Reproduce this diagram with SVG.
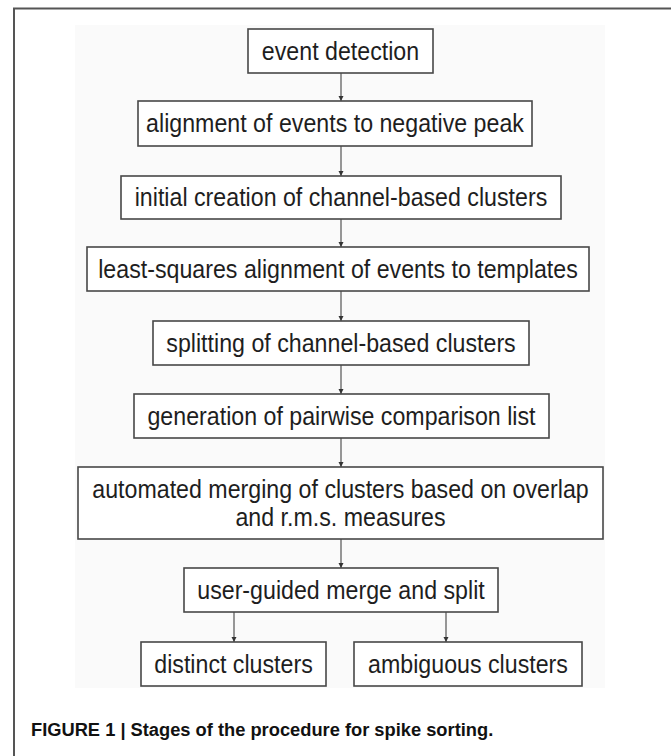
<svg xmlns="http://www.w3.org/2000/svg" width="671" height="756" viewBox="0 0 671 756">
<defs>
<marker id="ah" markerWidth="6" markerHeight="6" refX="5" refY="3" orient="auto" markerUnits="userSpaceOnUse">
<path d="M0,0.5 L5,3 L0,5.5 Z" fill="#333"/>
</marker>
</defs>
<style>
.box{fill:#fff;stroke:#484848;stroke-width:1.6}
.t{font-family:"Liberation Sans",Arial,sans-serif;font-size:23.2px;fill:#1e1e1e;text-anchor:middle}
.c{stroke:#333;stroke-width:1;fill:none;marker-end:url(#ah)}
.cap{font-family:"Liberation Sans",Arial,sans-serif;font-size:18.3px;font-weight:bold;fill:#111}
</style>
<rect x="0" y="0" width="671" height="756" fill="#fff"/>
<path d="M14,756 L14,8.5 L671,8.5" fill="none" stroke="#555" stroke-width="2"/>
<rect x="75" y="25" width="530" height="663" fill="#fafafa"/>
<g id="connectors">
<line class="c" x1="341" y1="73" x2="341" y2="101"/>
<line class="c" x1="341" y1="146" x2="341" y2="176"/>
<line class="c" x1="341" y1="219" x2="341" y2="247"/>
<line class="c" x1="341" y1="291" x2="341" y2="321"/>
<line class="c" x1="341" y1="365" x2="341" y2="394"/>
<line class="c" x1="341" y1="438" x2="341" y2="467"/>
<line class="c" x1="341" y1="539" x2="341" y2="568"/>
<line class="c" x1="234" y1="612" x2="234" y2="642"/>
<line class="c" x1="446" y1="612" x2="446" y2="642"/>
</g>
<g id="n1"><rect class="box" x="248" y="29" width="185" height="44"/><text class="t" transform="translate(340.5,59.5) scale(1,1.12)">event detection</text></g>
<g id="n2"><rect class="box" x="138" y="101" width="394" height="45"/><text class="t" transform="translate(335,132) scale(1,1.12)">alignment of events to negative peak</text></g>
<g id="n3"><rect class="box" x="121" y="176" width="440" height="43"/><text class="t" transform="translate(341,205.5) scale(1,1.12)">initial creation of channel-based clusters</text></g>
<g id="n4"><rect class="box" x="87" y="247" width="502" height="44"/><text class="t" transform="translate(338,277.5) scale(1,1.12)">least-squares alignment of events to templates</text></g>
<g id="n5"><rect class="box" x="153" y="321" width="376" height="44"/><text class="t" transform="translate(341,351.5) scale(1,1.12)">splitting of channel-based clusters</text></g>
<g id="n6"><rect class="box" x="134" y="394" width="415" height="44"/><text class="t" transform="translate(341.5,424.5) scale(1,1.12)">generation of pairwise comparison list</text></g>
<g id="n7"><rect class="box" x="78" y="467" width="525" height="72"/><text class="t" transform="translate(340.5,498) scale(1,1.12)">automated merging of clusters based on overlap</text><text class="t" transform="translate(340.5,526) scale(1,1.12)">and r.m.s. measures</text></g>
<g id="n8"><rect class="box" x="184" y="568" width="314" height="44"/><text class="t" transform="translate(341,598.5) scale(1,1.12)">user-guided merge and split</text></g>
<g id="n9"><rect class="box" x="141" y="642" width="185" height="44"/><text class="t" transform="translate(233.5,672.5) scale(1,1.12)">distinct clusters</text></g>
<g id="n10"><rect class="box" x="354" y="642" width="228" height="44"/><text class="t" transform="translate(468,672.5) scale(1,1.12)">ambiguous clusters</text></g>
<text class="cap" x="31" y="736">FIGURE 1 | Stages of the procedure for spike sorting.</text>
</svg>
